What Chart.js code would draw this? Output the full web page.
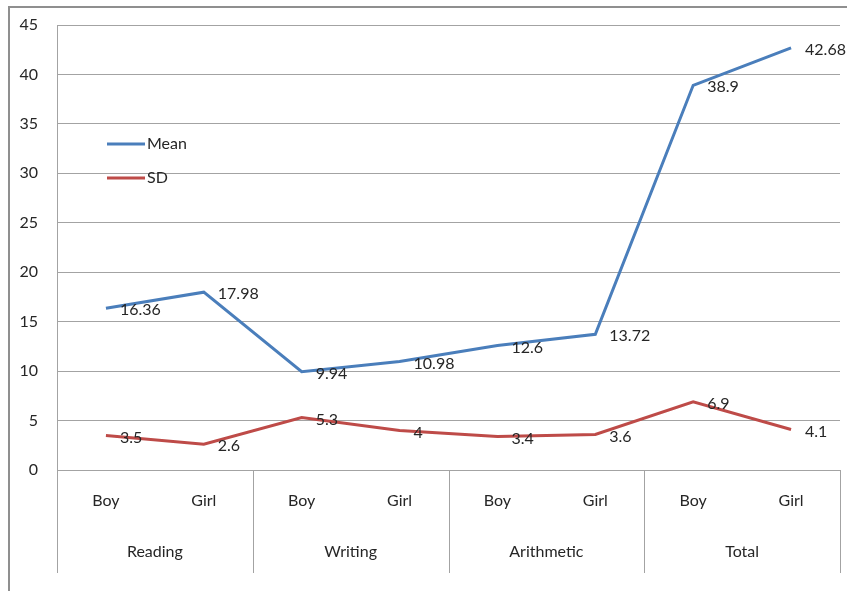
<!DOCTYPE html>
<html>
<head>
<meta charset="utf-8">
<script src="https://cdn.jsdelivr.net/npm/chart.js@4/dist/chart.umd.min.js"></script>
<style>
  html, body { margin: 0; padding: 0; background: #fff; }
  #wrap { width: 847px; height: 591px; position: relative; }
</style>
</head>
<body>
<div id="wrap"><canvas id="chart" width="847" height="591"></canvas></div>
<script>
// Data
const subCategories = ['Boy', 'Girl', 'Boy', 'Girl', 'Boy', 'Girl', 'Boy', 'Girl'];
const groups = ['Reading', 'Writing', 'Arithmetic', 'Total'];
const meanValues = [16.36, 17.98, 9.94, 10.98, 12.6, 13.72, 38.9, 42.68];
const sdValues = [3.5, 2.6, 5.3, 4, 3.4, 3.6, 6.9, 4.1];
const yTicks = [0, 5, 10, 15, 20, 25, 30, 35, 40, 45];

const FONT = 'Lato, "Liberation Sans", sans-serif';
const TEXT = '#262626';
const GRID = '#a3a3a3';

// frame, group separators, point labels and the inner legend
const extras = {
    id: 'extras',
    beforeDraw(chart) {
        const c = chart.ctx;
        c.save();
        c.strokeStyle = '#8f8f8f';
        c.lineWidth = 2;
        c.beginPath();
        c.moveTo(9, chart.height);
        c.lineTo(9, 7);
        c.lineTo(chart.width, 7);
        c.stroke();
        c.restore();
    },
    afterDraw(chart) {
        const c = chart.ctx;
        const area = chart.chartArea;
        const g = chart.scales.x2;
        c.save();
        // separators between groups
        c.strokeStyle = GRID;
        c.lineWidth = 1;
        const n = groups.length;
        for (let i = 0; i <= n; i++) {
            const px = Math.round(g.left + i * g.width / n) + 0.5;
            c.beginPath();
            c.moveTo(px, area.bottom);
            c.lineTo(px, g.bottom);
            c.stroke();
        }
        // value labels
        c.font = '16px ' + FONT;
        c.fillStyle = TEXT;
        c.textAlign = 'left';
        c.textBaseline = 'middle';
        chart.data.datasets.forEach(function (ds, di) {
            chart.getDatasetMeta(di).data.forEach(function (pt, i) {
                c.fillText(String(ds.data[i]), pt.x + 14, pt.y + 2);
            });
        });
        // legend inside the plot
        const lx = area.left + 50;
        let ly = area.top + 119;
        chart.data.datasets.forEach(function (ds) {
            c.strokeStyle = ds.borderColor;
            c.lineWidth = 3;
            c.beginPath();
            c.moveTo(lx, ly);
            c.lineTo(lx + 38, ly);
            c.stroke();
            c.fillStyle = TEXT;
            c.fillText(ds.label, lx + 40, ly);
            ly += 34;
        });
        c.restore();
    }
};

new Chart(document.getElementById('chart').getContext('2d'), {
    type: 'line',
    data: {
        labels: subCategories,
        datasets: [{
            label: 'Mean',
            data: meanValues,
            borderColor: '#4a7ebb',
            backgroundColor: '#4a7ebb',
            borderWidth: 3,
            pointRadius: 0,
            tension: 0
        }, {
            label: 'SD',
            data: sdValues,
            borderColor: '#be4b48',
            backgroundColor: '#be4b48',
            borderWidth: 3,
            pointRadius: 0,
            tension: 0
        }]
    },
    options: {
        responsive: false,
        animation: false,
        layout: { padding: { left: 0, right: 7, top: 25, bottom: 18 } },
        scales: {
            y: {
                min: 0,
                max: 45,
                afterBuildTicks: function (scale) {
                    scale.ticks = yTicks.map(function (v) { return { value: v }; });
                },
                afterFit: function (scale) {
                    scale.width = 57;
                    scale.paddingTop = 0;
                    scale.paddingBottom = 0;
                },
                grid: { color: GRID, drawTicks: false },
                border: { display: true, color: GRID },
                ticks: { padding: 19, color: TEXT, font: { family: FONT, size: 16 } }
            },
            x: {
                type: 'category',
                offset: true,
                afterFit: function (scale) { scale.height = 55; },
                grid: { display: false, drawTicks: false },
                border: { display: false },
                ticks: { padding: 21, color: TEXT, maxRotation: 0, autoSkip: false, font: { family: FONT, size: 16 } }
            },
            x2: {
                type: 'category',
                position: 'bottom',
                labels: groups,
                offset: true,
                afterFit: function (scale) { scale.height = 48; },
                grid: { display: false, drawTicks: false },
                border: { display: false },
                ticks: { padding: 17, color: TEXT, maxRotation: 0, autoSkip: false, font: { family: FONT, size: 16 } }
            }
        },
        plugins: {
            legend: { display: false },
            tooltip: { enabled: false }
        }
    },
    plugins: [extras]
});
</script>
</body>
</html>
